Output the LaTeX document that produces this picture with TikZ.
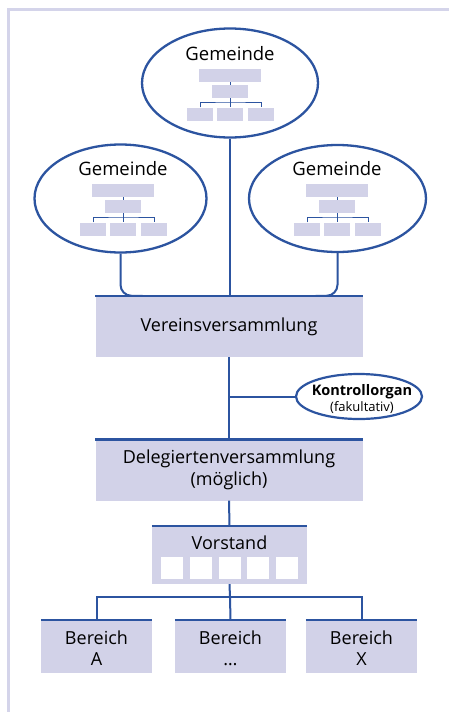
\documentclass[tikz,border=0pt]{standalone}
\usepackage{fontspec}
\setmainfont{Open Sans}
\usetikzlibrary{shapes.geometric,calc}
\definecolor{lineblue}{RGB}{44,84,160}
\definecolor{lav}{RGB}{210,210,232}
\definecolor{framec}{RGB}{212,212,234}
\tikzset{
 box/.style={rectangle, fill=lav, inner sep=0pt, align=center, font=\fontsize{18}{22}\selectfont},
 topline/.style={draw=lineblue, line width=2.5pt},
 conn/.style={draw=lineblue, line width=2pt},
 oval/.style={ellipse, draw=lineblue, line width=2.3pt, fill=white, inner sep=0pt},
 smallbox/.style={rectangle, fill=lav, inner sep=0pt, minimum height=13pt},
 thinline/.style={draw=lineblue, line width=1pt},
 wsq/.style={rectangle, fill=white, minimum width=22pt, minimum height=22pt, inner sep=0pt},
 gtext/.style={font=\fontsize{18.5}{20}\selectfont, inner sep=0pt},
 btext/.style={inner sep=0pt, align=center, font=\fontsize{18}{21}\selectfont},
}
\newcommand\orgchart[3]{%
 \node[gtext] (#1txt) at (#2,#3-29.5) {Gemeinde};
 \node[smallbox, minimum width=62pt] (#1t) at (#2,#3-7.5) {};
 \node[smallbox, minimum width=36pt] (#1m) at (#2,#3+8.5) {};
 \node[smallbox, minimum width=26pt] (#1a) at (#2-30,#3+31) {};
 \node[smallbox, minimum width=26pt] (#1b) at (#2,#3+31) {};
 \node[smallbox, minimum width=26pt] (#1c) at (#2+31,#3+31) {};
 \coordinate (#1h) at (#2,#3+19);
 \draw[thinline] (#1t) -- (#1m);
 \draw[thinline] (#1m.south) -- (#1b.north);
 \draw[thinline] (#1a.north) |- (#1h) -| (#1c.north);
}
\begin{document}
\begin{tikzpicture}[x=1pt,y=-1pt]
\useasboundingbox (0,0) rectangle (449,712);
\fill[white] (0,0) rectangle (449,712);
\draw[framec, line width=3pt] (8.5,712) -- (8.5,9.5) -- (449,9.5);

% boxes
\node[box, minimum width=267pt, minimum height=61pt] (vv) at (229,326.5) {Vereinsversammlung};
\node[box, minimum width=267pt, minimum height=61pt] (dv) at (229,470) {Delegiertenversammlung\\(möglich)};
\node[box, minimum width=155pt, minimum height=58pt] (vs) at (229.5,555) {};
\node[box, minimum width=111pt, minimum height=53pt] (b1) at (96.5,646.5) {};
\node[box, minimum width=111pt, minimum height=53pt] (b2) at (230.5,646.5) {};
\node[box, minimum width=111pt, minimum height=53pt] (b3) at (361.5,646.5) {};

% ellipses
\node[oval, minimum width=176pt, minimum height=109pt] (g1) at (230,83) {};
\node[oval, minimum width=172pt, minimum height=108pt] (g2) at (120.5,198.5) {};
\node[oval, minimum width=177pt, minimum height=107pt] (g3) at (337.5,198.5) {};
\orgchart{oa}{230}{83}
\orgchart{ob}{123}{198}
\orgchart{oc}{337}{198}

% connectors from Gemeinden
\draw[conn] (g1.south) -- (g1.south |- vv.north);
\draw[conn, rounded corners=11pt] (g2.south) |- ($(g2.south |- vv.north)+(22,0)$);
\draw[conn, rounded corners=11pt] (g3.south) |- ($(g3.south |- vv.north)+(-22,0)$);

% Kontrollorgan
\node[oval, line width=2.2pt, minimum width=126pt, minimum height=45pt] (ko) at (359,396.5) {};
\node[inner sep=0pt, font=\bfseries\fontsize{14.5}{15}\selectfont] (kot) at (362,391.5) {Kontrollorgan};
\node[inner sep=0pt, font=\fontsize{13}{14}\selectfont] (kof) at (362,408) {(fakultativ)};
\draw[conn] (vv.south) -- (dv.north);
\draw[conn] (vv.south |- ko.west) -- (ko.west);

% Vorstand
\node[btext] (vst) at (229.5,543) {Vorstand};
\node[wsq] (s1) at (172,568) {};
\node[wsq] (s2) at (201,568) {};
\node[wsq] (s3) at (229.5,568) {};
\node[wsq] (s4) at (258,568) {};
\node[wsq] (s5) at (286.5,568) {};
\draw[conn] (dv.south) -- (vs.north);

% Bereiche
\coordinate (bus) at (230,597);
\draw[conn] (vs.south) -- (bus);
\draw[conn] (b1.north) |- (bus) -| (b3.north);
\draw[conn] (bus) -- (b2.north);
\node[btext] (b1t) at (96.5,648.5) {Bereich\\A};
\node[btext] (b2t) at (230.5,648.5) {Bereich\\\dots};
\node[btext] (b3t) at (361.5,648.5) {Bereich\\X};

% top lines of boxes
\foreach \n in {vv,dv,vs,b1,b2,b3} {
 \draw[topline] (\n.north west) -- (\n.north east);
}
\end{tikzpicture}
\end{document}
